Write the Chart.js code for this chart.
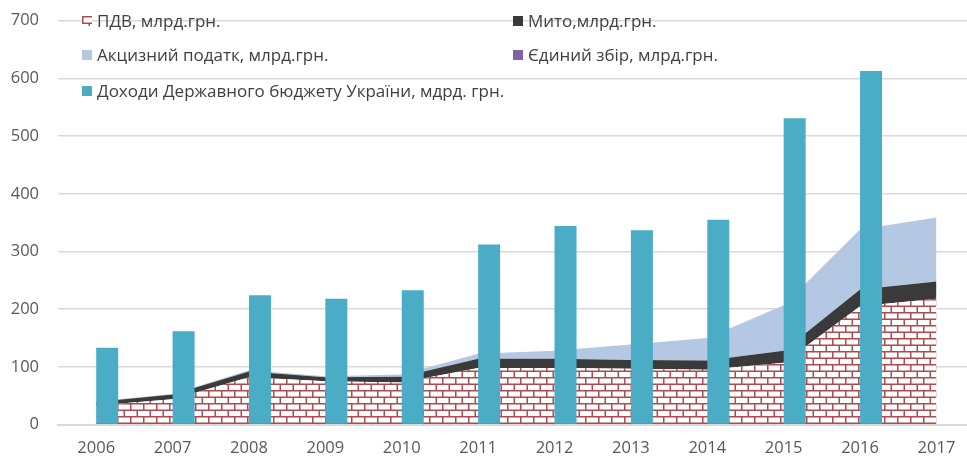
<!DOCTYPE html>
<html>
<head>
<meta charset="utf-8">
<script src="https://cdn.jsdelivr.net/npm/chart.js@4.4.1/dist/chart.umd.min.js"></script>
<style>
html,body{margin:0;padding:0;background:#fff;overflow:hidden}
#wrap{position:relative;width:967px;height:457px}
</style>
</head>
<body>
<div id="wrap"><canvas id="c" width="967" height="457"></canvas></div>
<script>
// ---- data ----
const years = [2006, 2007, 2008, 2009, 2010, 2011, 2012, 2013, 2014, 2015, 2016, 2017];
const pdvValues = [33, 44, 82, 75, 73, 98, 98, 97, 95, 107, 205, 218];
const mytoValues = [6, 8, 10, 7, 10, 16, 16, 15, 16, 21, 29, 30];
const excisValues = [1, 1, 2, 2, 4, 9, 14, 27, 39, 79, 104, 111];
const singleFeeValues = [null, null, null, null, null, null, null, null, null, null, null, null];
const budgetValues = [133, 162, 224, 218, 233, 312, 344, 337, 355, 531, 613, null];
const yTickValues = [0, 100, 200, 300, 400, 500, 600, 700];
const seriesNames = [
  'ПДВ, млрд.грн.',
  'Мито,млрд.грн.',
  'Акцизний податк, млрд.грн.',
  'Єдиний збір, млрд.грн.',
  'Доходи Державного бюджету України, мдрд. грн.'
];

// ---- styles ----
const FONT = '"Open Sans", "Noto Sans", sans-serif';
const COL_MYTO = '#3a3a3a';
const COL_EXCISE = '#b4c7e3';
const COL_SINGLE = '#8064a2';
const COL_BUDGET = '#4bacc6';

function makeBrick() {
  const pc = document.createElement('canvas');
  pc.width = 13; pc.height = 13;
  const g = pc.getContext('2d');
  g.fillStyle = '#ffffff';
  g.fillRect(0, 0, 13, 13);
  g.strokeStyle = '#b04a4f';
  g.lineWidth = 1.5;
  g.beginPath();
  g.moveTo(0, 0.75); g.lineTo(13, 0.75);
  g.moveTo(0, 7.25); g.lineTo(13, 7.25);
  g.moveTo(0.75, 0); g.lineTo(0.75, 7.25);
  g.moveTo(7.25, 7.25); g.lineTo(7.25, 13);
  g.stroke();
  return g.createPattern(pc, 'repeat');
}
const ctx = document.getElementById('c').getContext('2d');
const brick = makeBrick();

const legendFills = [brick, COL_MYTO, COL_EXCISE, COL_SINGLE, COL_BUDGET];
// slot = [column, row]
const legendSlots = [[0, 0], [1, 0], [0, 1], [1, 1], [0, 2]];
const legendColX = [24, 455];
const legendRowY = [0, 34, 70];

const legendPlugin = {
  id: 'customLegend',
  afterDraw(chart) {
    const c = chart.ctx;
    const a = chart.chartArea;
    c.save();
    c.font = '17px ' + FONT;
    c.textBaseline = 'middle';
    c.textAlign = 'left';
    chart.data.datasets.forEach((ds, i) => {
      const [col, row] = legendSlots[i];
      const x = Math.round(a.left + legendColX[col]);
      const y = Math.round(a.top + legendRowY[row]);
      c.save();
      c.translate(x, y - 5);
      c.fillStyle = legendFills[i];
      c.fillRect(0, 0, 10, 10);
      c.restore();
      c.fillStyle = '#404040';
      c.fillText(ds.label, x + 15, y + 1);
    });
    c.restore();
  }
};

const barCat = 0.576;

new Chart(ctx, {
  type: 'bar',
  data: {
    labels: years,
    datasets: [
      { type: 'line', label: seriesNames[0], data: pdvValues, stack: 'area', fill: 'origin',
        backgroundColor: brick, borderWidth: 0, pointRadius: 0, tension: 0, order: 1 },
      { type: 'line', label: seriesNames[1], data: mytoValues, stack: 'area', fill: '-1',
        backgroundColor: COL_MYTO, borderWidth: 0, pointRadius: 0, tension: 0, order: 1 },
      { type: 'line', label: seriesNames[2], data: excisValues, stack: 'area', fill: '-1',
        backgroundColor: COL_EXCISE, borderWidth: 0, pointRadius: 0, tension: 0, order: 1 },
      { type: 'bar', label: seriesNames[3], data: singleFeeValues, stack: 's1',
        backgroundColor: COL_SINGLE, barPercentage: 1, categoryPercentage: barCat, order: 0 },
      { type: 'bar', label: seriesNames[4], data: budgetValues, stack: 's2',
        backgroundColor: COL_BUDGET, barPercentage: 1, categoryPercentage: barCat, order: 0 }
    ]
  },
  options: {
    responsive: false,
    animation: false,
    devicePixelRatio: 1,
    layout: { padding: { top: 20.7, left: 0, right: 0, bottom: 0 } },
    plugins: { legend: { display: false }, tooltip: { enabled: false } },
    scales: {
      x: {
        type: 'linear',
        min: 2005.5,
        max: 2017.4,
        offset: false,
        grid: { display: false },
        border: { display: true, color: '#d9d9d9', width: 2 },
        ticks: { stepSize: 1, color: '#595959', font: { family: FONT, size: 16.5 }, padding: 6,
          maxRotation: 0, autoSkip: false, callback: v => String(v) },
        afterBuildTicks: s => { s.ticks = years.map(y => ({ value: y })); },
        afterFit: s => { s.height = 32.4; s.paddingLeft = 0; s.paddingRight = 0; }
      },
      y: {
        stacked: true,
        min: 0,
        max: 700,
        grid: { color: '#d9d9d9', lineWidth: 1.5, drawTicks: false },
        border: { display: false },
        ticks: { stepSize: 100, color: '#595959', font: { family: FONT, size: 16.5 }, padding: 19 },
        afterBuildTicks: s => { s.ticks = yTickValues.map(v => ({ value: v })); },
        afterFit: s => { s.width = 58; s.paddingTop = 0; s.paddingBottom = 0; }
      }
    }
  },
  plugins: [legendPlugin]
});
</script>
</body>
</html>
